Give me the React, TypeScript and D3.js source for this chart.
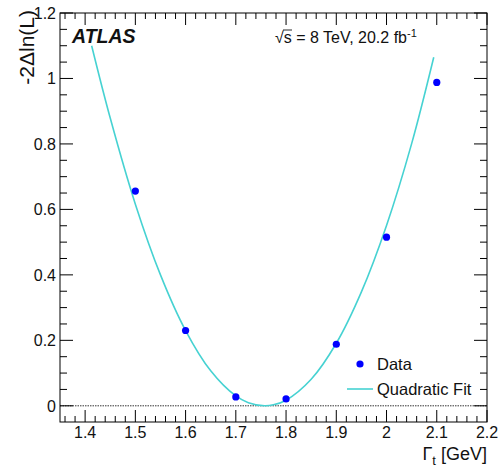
import React from 'react';
import * as d3 from 'd3';

// measured points (Gamma_t in GeV, -2 delta ln L)
const widthPoints = [1.5, 1.6, 1.7, 1.8, 1.9, 2.0, 2.1];
const nllValues = [0.656, 0.23, 0.027, 0.021, 0.188, 0.515, 0.988];

// quadratic fit curve
const fitX = [1.413, 1.45, 1.5, 1.55, 1.6, 1.65, 1.7, 1.725, 1.757, 1.775, 1.8, 1.85, 1.9, 1.95, 2.0, 2.05, 2.094];
const fitY = [1.1, 0.879, 0.616, 0.4, 0.23, 0.107, 0.03, 0.0096, 0, 0.003, 0.017, 0.081, 0.191, 0.348, 0.551, 0.801, 1.065];

const xTicks = [1.4, 1.5, 1.6, 1.7, 1.8, 1.9, 2.0, 2.1, 2.2];
const yTicks = [0, 0.2, 0.4, 0.6, 0.8, 1.0, 1.2];

const W = 498;
const H = 468;
const frame = { left: 60, right: 487, top: 13, bottom: 422 };
const font = '"Liberation Sans", Arial, Helvetica, sans-serif';
const fitColor = '#46d2d2';
const dataColor = '#0000ff';

export default function App() {
  const x = d3.scaleLinear().domain([1.35, 2.2]).range([frame.left, frame.right]);
  const y = d3.scaleLinear().domain([-0.0495, 1.2]).range([frame.bottom, frame.top]);

  const xMinor = d3.range(1.36, 2.2, 0.02).filter(v => Math.abs(Math.round(v * 10) - v * 10) > 1e-6);
  const yMinor = d3.range(-0.05, 1.2, 0.05).filter(v => v > -0.049 && Math.abs(Math.round(v * 5) - v * 5) > 1e-6);

  const fitPts = fitX.map((v, i) => [v, fitY[i]] as [number, number]);
  const line = d3.line<[number, number]>()
    .x(d => x(d[0]))
    .y(d => y(d[1]))
    .curve(d3.curveCatmullRom);

  const tickStroke = '#000';

  return (
    <svg width={W} height={H} style={{ position: 'absolute', left: 0, top: 0 }} fontFamily={font}>
      <rect x={0} y={0} width={W} height={H} fill="#fff" />

      {/* zero line */}
      <line x1={frame.left} x2={frame.right} y1={y(0)} y2={y(0)} stroke="#000" strokeWidth={0.8} strokeDasharray="1.5,1" />

      {/* fit */}
      <path d={line(fitPts) || ''} fill="none" stroke={fitColor} strokeWidth={1.6} />

      {/* data */}
      {widthPoints.map((v, i) => (
        <circle key={v} cx={x(v)} cy={y(nllValues[i])} r={3.6} fill={dataColor} />
      ))}

      {/* frame */}
      <rect x={frame.left} y={frame.top} width={frame.right - frame.left} height={frame.bottom - frame.top}
        fill="none" stroke="#000" strokeWidth={1} />

      {/* x ticks bottom and top */}
      {xTicks.map(t => (
        <g key={'xt' + t}>
          <line x1={x(t)} x2={x(t)} y1={frame.bottom} y2={frame.bottom - 12} stroke={tickStroke} />
          <line x1={x(t)} x2={x(t)} y1={frame.top} y2={frame.top + 12} stroke={tickStroke} />
          <text x={x(t)} y={438} fontSize={16} textAnchor="middle" fill="#111">{d3.format('')(t)}</text>
        </g>
      ))}
      {xMinor.map(t => (
        <g key={'xm' + t}>
          <line x1={x(t)} x2={x(t)} y1={frame.bottom} y2={frame.bottom - 6} stroke={tickStroke} />
          <line x1={x(t)} x2={x(t)} y1={frame.top} y2={frame.top + 6} stroke={tickStroke} />
        </g>
      ))}

      {/* y ticks left and right */}
      {yTicks.map(t => (
        <g key={'yt' + t}>
          <line x1={frame.left} x2={frame.left + 13} y1={y(t)} y2={y(t)} stroke={tickStroke} />
          <line x1={frame.right} x2={frame.right - 13} y1={y(t)} y2={y(t)} stroke={tickStroke} />
          <text x={56} y={y(t)} dy="0.36em" fontSize={16} textAnchor="end" fill="#111">{d3.format('')(+t.toFixed(1))}</text>
        </g>
      ))}
      {yMinor.map(t => (
        <g key={'ym' + t}>
          <line x1={frame.left} x2={frame.left + 7} y1={y(t)} y2={y(t)} stroke={tickStroke} />
          <line x1={frame.right} x2={frame.right - 7} y1={y(t)} y2={y(t)} stroke={tickStroke} />
        </g>
      ))}

      {/* axis titles */}
      <text transform="translate(34,10) rotate(-90)" textAnchor="end" fontSize={21} fill="#111">-2Δln(L)</text>
      <text x={487} y={460} textAnchor="end" fontSize={18} fill="#111">
        Γ<tspan dy="5" fontSize={13}>t</tspan><tspan dy="-5"> [GeV]</tspan>
      </text>

      {/* labels */}
      <text x={72} y={43} fontSize={19.5} fontWeight="bold" fontStyle="italic" fill="#111">ATLAS</text>
      <text x={275} y={43} fontSize={16} fill="#111">
        <tspan>√</tspan><tspan>s</tspan><tspan> = 8 TeV, 20.2 fb</tspan>
        <tspan dy="-6" fontSize={11}>-1</tspan>
      </text>
      <line x1={283} x2={292} y1={30} y2={30} stroke="#111" strokeWidth={0.9} />

      {/* legend */}
      <circle cx={360} cy={364} r={3.6} fill={dataColor} />
      <text x={377} y={370} fontSize={16.5} fill="#111">Data</text>
      <line x1={347} x2={373} y1={389} y2={389} stroke={fitColor} strokeWidth={1.6} />
      <text x={377} y={395} fontSize={16.5} fill="#111">Quadratic Fit</text>
    </svg>
  );
}
